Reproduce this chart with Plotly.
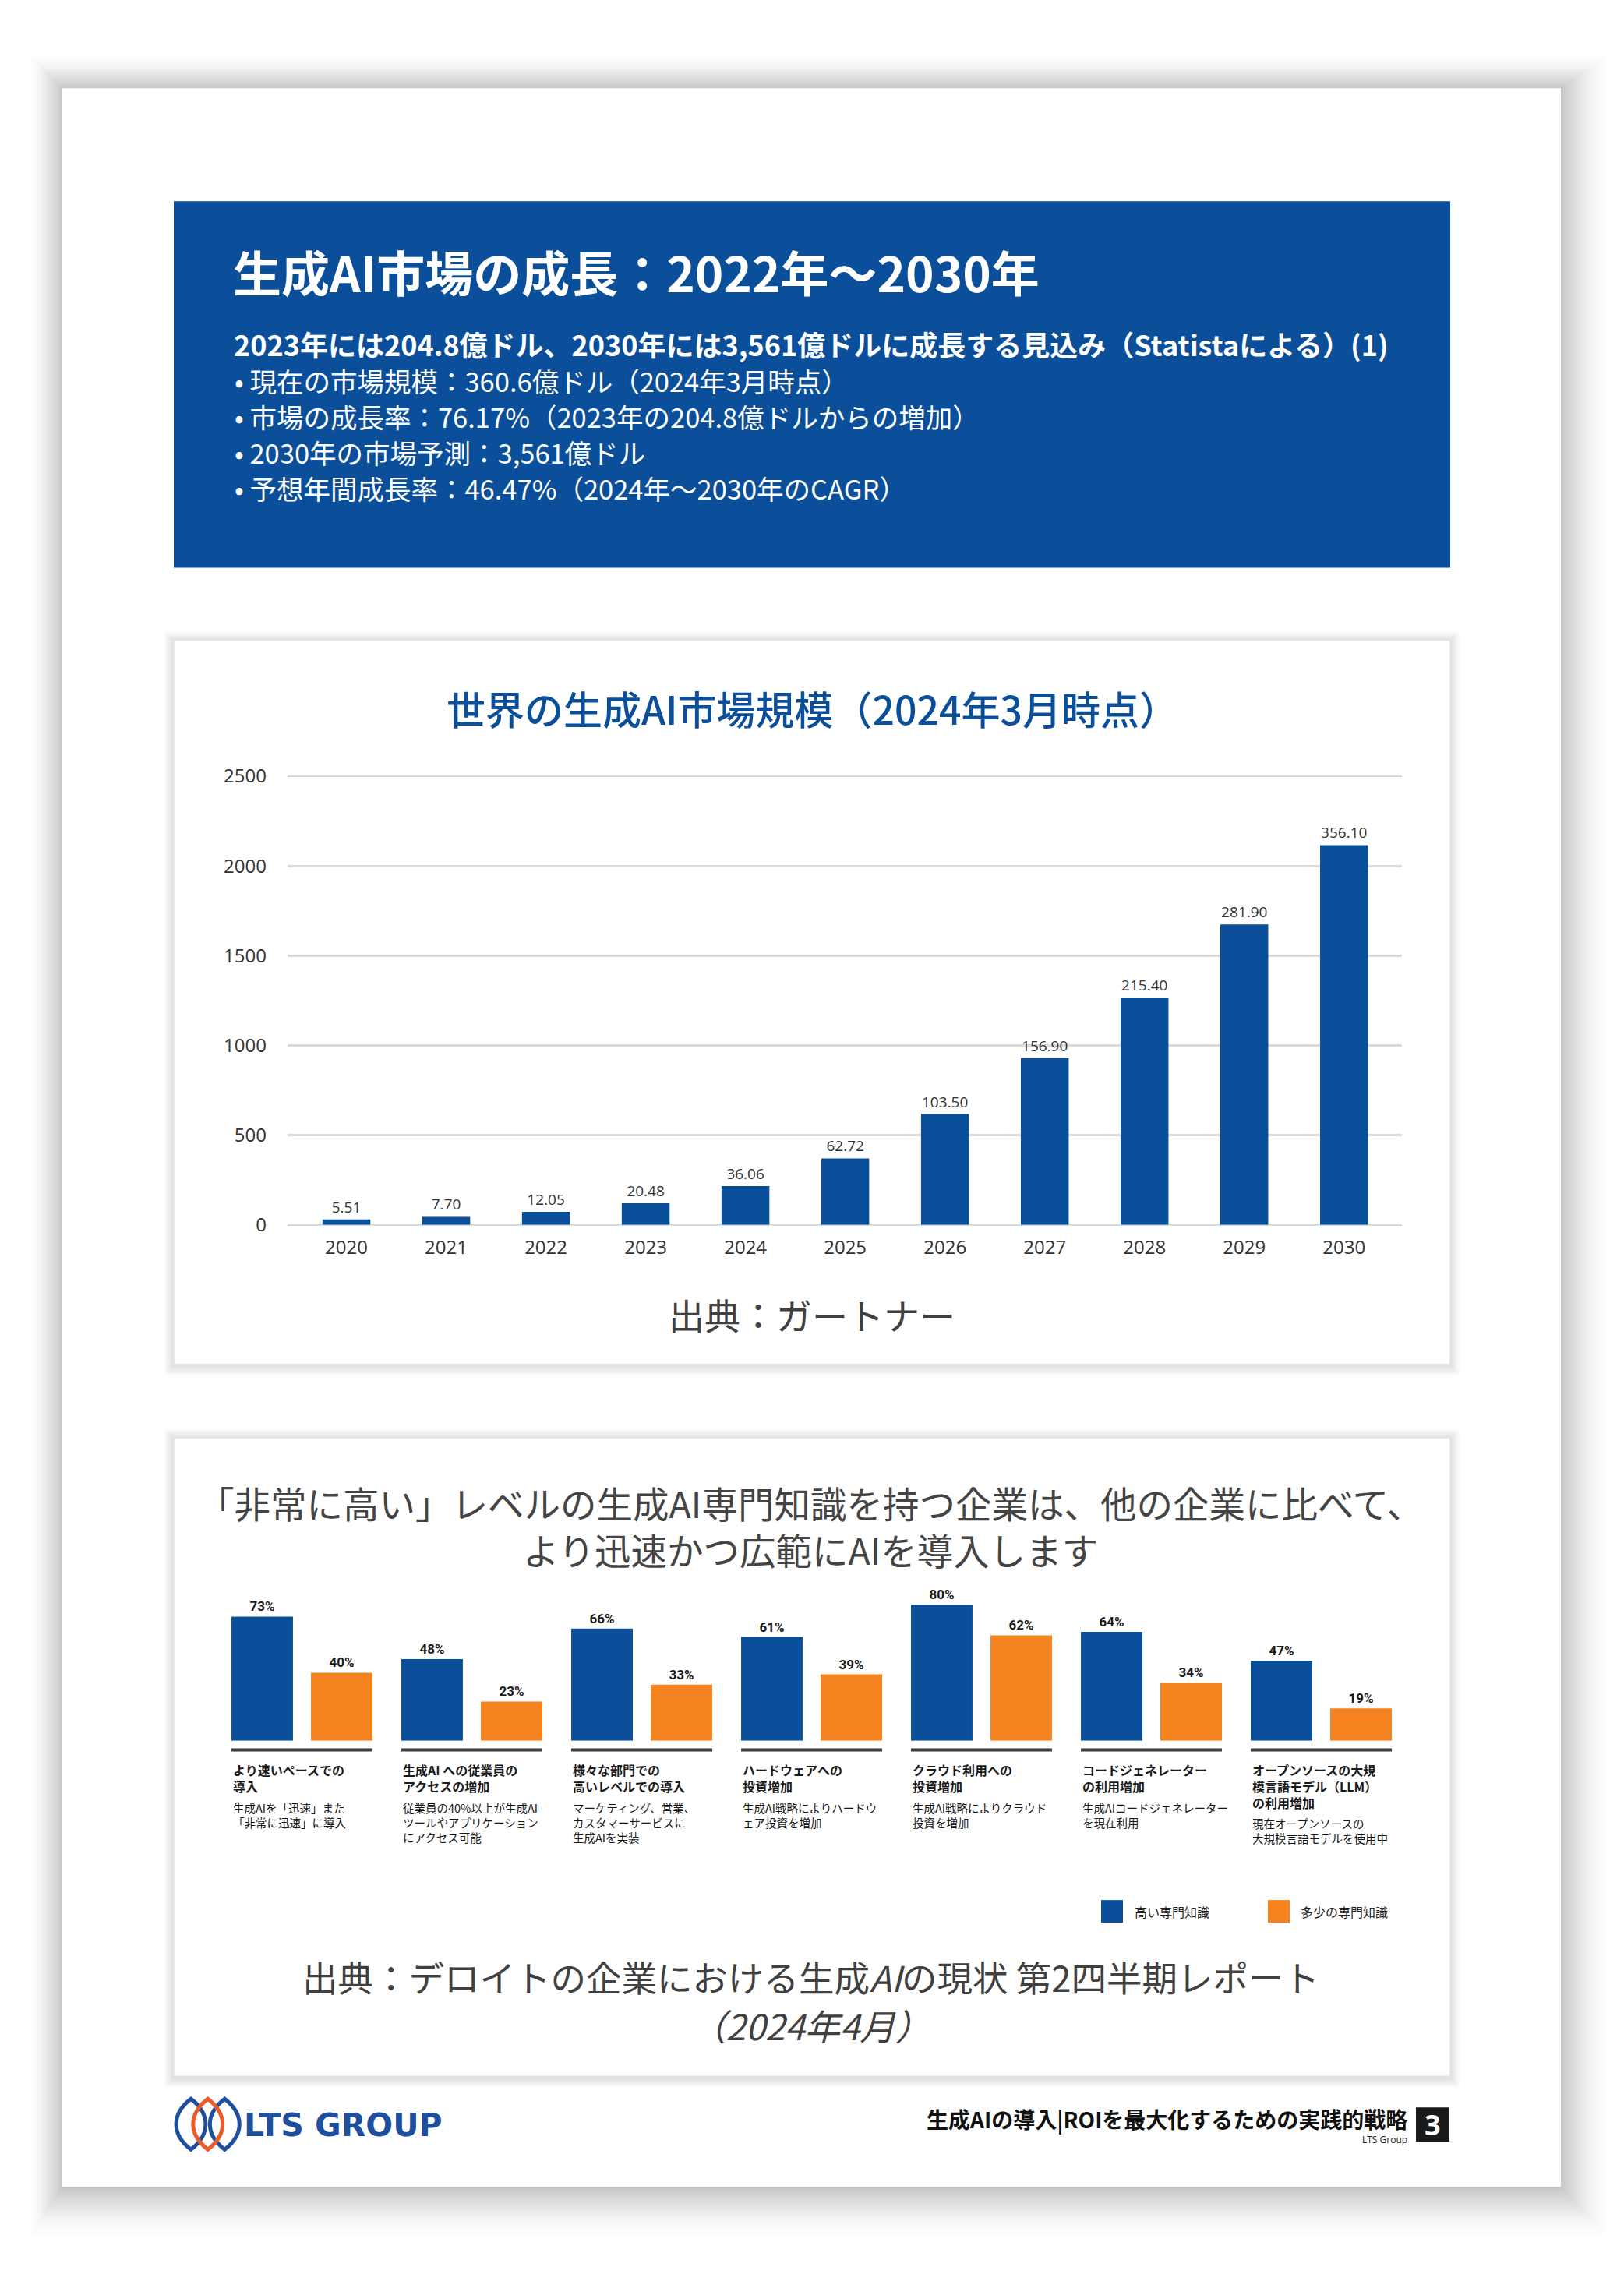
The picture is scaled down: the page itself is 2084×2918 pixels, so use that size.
import plotly.graph_objects as go

W, H = 2084, 2918
# the photographed page is slightly squeezed vertically; compensate the layout grid
Y_OFF, Y_SCALE = 11.8, 0.9914


def fx(x):
    return x / W


def fy(y):
    return 1 - ((y - Y_OFF) / Y_SCALE) / H


BLUE = "#0b4f9b"
ORANGE = "#f4821f"
CJK = "Noto Sans CJK JP"
LAT = "Open Sans"

# ---------------- data ----------------
header_title = "生成AI市場の成長：2022年〜2030年"
header_sub = "2023年には204.8億ドル、2030年には3,561億ドルに成長する見込み（Statistaによる）(1)"
header_bullets = [
    "• 現在の市場規模：360.6億ドル（2024年3月時点）",
    "• 市場の成長率：76.17%（2023年の204.8億ドルからの増加）",
    "• 2030年の市場予測：3,561億ドル",
    "• 予想年間成長率：46.47%（2024年〜2030年のCAGR）",
]

chart1_title = "世界の生成AI市場規模（2024年3月時点）"
chart1_source = "出典：ガートナー"
years = ["2020", "2021", "2022", "2023", "2024", "2025", "2026", "2027", "2028", "2029", "2030"]
market_bar_heights = [30, 44, 72, 120, 215, 370, 617, 929, 1266, 1674, 2116]
market_labels = ["5.51", "7.70", "12.05", "20.48", "36.06", "62.72",
                 "103.50", "156.90", "215.40", "281.90", "356.10"]
y_ticks = [0, 500, 1000, 1500, 2000, 2500]
y_tick_labels = ["0", "500", "1000", "1500", "2000", "2500"]

chart2_title = ("「非常に高い」レベルの生成AI専門知識を持つ企業は、他の企業に比べて、<br>"
                "より迅速かつ広範にAIを導入します")
category_titles = [
    ["より速いペースでの", "導入"],
    ["生成AI への従業員の", "アクセスの増加"],
    ["様々な部門での", "高いレベルでの導入"],
    ["ハードウェアへの", "投資増加"],
    ["クラウド利用への", "投資増加"],
    ["コードジェネレーター", "の利用増加"],
    ["オープンソースの大規", "模言語モデル（LLM）", "の利用増加"],
]
category_descs = [
    ["生成AIを「迅速」また", "「非常に迅速」に導入"],
    ["従業員の40%以上が生成AI", "ツールやアプリケーション", "にアクセス可能"],
    ["マーケティング、営業、", "カスタマーサービスに", "生成AIを実装"],
    ["生成AI戦略によりハードウ", "ェア投資を増加"],
    ["生成AI戦略によりクラウド", "投資を増加"],
    ["生成AIコードジェネレーター", "を現在利用"],
    ["現在オープンソースの", "大規模言語モデルを使用中"],
]
series_names = ["高い専門知識", "多少の専門知識"]
high_expertise = [73, 48, 66, 61, 80, 64, 47]
some_expertise = [40, 23, 33, 39, 62, 34, 19]
chart2_source = ["出典：デロイトの企業における生成<i>AI</i>の現状 第2四半期レポート",
                 "<i>（2024年4月）</i>"]

footer_brand = "LTS GROUP"
footer_text = "生成AIの導入|ROIを最大化するための実践的戦略"
footer_small = "LTS Group"
page_number = "3"

# ---------------- figure ----------------
fig = go.Figure()

fig.add_trace(go.Bar(
    x=years, y=market_bar_heights, text=market_labels, texttemplate="%{text}",
    textposition="outside", constraintext="none", cliponaxis=False,
    width=0.48, marker=dict(color=BLUE, line=dict(width=0)),
    textfont=dict(family=LAT, size=19, color="#333333"),
    xaxis="x", yaxis="y", hoverinfo="skip", showlegend=False,
))

cat_idx = list(range(len(high_expertise)))
BW, BOFF = 0.362, 0.415
fig.add_trace(go.Bar(
    x=cat_idx, y=high_expertise, name=series_names[0],
    text=[f"{v}%" for v in high_expertise], texttemplate="%{text}",
    textposition="outside", constraintext="none", cliponaxis=False,
    width=BW, offset=-BOFF, marker=dict(color=BLUE, line=dict(width=0)),
    textfont=dict(family="Roboto", size=17, color="#1a1a1a", weight="bold"),
    xaxis="x2", yaxis="y2", hoverinfo="skip", showlegend=False,
))
fig.add_trace(go.Bar(
    x=cat_idx, y=some_expertise, name=series_names[1],
    text=[f"{v}%" for v in some_expertise], texttemplate="%{text}",
    textposition="outside", constraintext="none", cliponaxis=False,
    width=BW, offset=BOFF - BW, marker=dict(color=ORANGE, line=dict(width=0)),
    textfont=dict(family="Roboto", size=17, color="#1a1a1a", weight="bold"),
    xaxis="x2", yaxis="y2", hoverinfo="skip", showlegend=False,
))

shapes = []
annotations = []


def rect(x0, y0, x1, y1, fill, line_color=None, line_width=0, layer="below", opacity=1):
    shapes.append(dict(
        type="rect", xref="paper", yref="paper",
        x0=fx(x0), x1=fx(x1), y0=fy(y1), y1=fy(y0),
        fillcolor=fill, opacity=opacity, layer=layer,
        line=dict(color=line_color or "rgba(0,0,0,0)", width=line_width),
    ))


# page shadow + page
PX0, PY0, PX1, PY1 = 80, 112, 2003, 2804
for k in range(32, 0, -1):
    e, o = k * 1.55, k * 0.25
    a = 0.0035 + 0.0075 * (1 - k / 32)
    rect(PX0 - e + o, PY0 - e + o, PX1 + e + o, PY1 + e + 1.5 * o, f"rgba(0,0,0,{a:.4f})")
rect(PX0, PY0, PX1, PY1, "#ffffff")

# header box
rect(223, 257, 1861, 727, BLUE)


def card(x0, y0, x1, y1):
    for k in range(6, 0, -1):
        e = k * 2.0
        rect(x0 - e, y0 - e + 1, x1 + e, y1 + e + 2, "rgba(0,0,0,0.018)")
    rect(x0, y0, x1, y1, "#ffffff", line_color="#e4e4e4", line_width=1.5)


card(223, 820, 1861, 1749)
card(223, 1843, 1861, 2662)


def text(x, y, s, size, color="#222222", family=CJK, weight="normal",
         xanchor="left", yanchor="middle", align="left"):
    annotations.append(dict(
        x=fx(x), y=fy(y), xref="paper", yref="paper", text=s, showarrow=False,
        xanchor=xanchor, yanchor=yanchor, align=align,
        font=dict(family=family, size=size, color=color, weight=weight),
    ))


# header texts
text(297, 347, header_title, 62, "#ffffff", weight="bold")
text(298, 440, header_sub, 36, "#ffffff", weight="bold")
for i, b in enumerate(header_bullets):
    text(299, 487 + i * 46, b, 34.5, "#ffffff")

# chart 1 texts
text(1042, 906, chart1_title, 50, BLUE, weight=500, xanchor="center")
text(1042, 1684, chart1_source, 46, "#404040", xanchor="center")

# chart 2 texts
text(1040, 1956, chart2_title, 46.5, "#444444", xanchor="center", align="center")
text(1040, 2534, chart2_source[0], 45.5, "#404040", xanchor="center", align="center")
text(1040, 2596, chart2_source[1], 45.5, "#404040", xanchor="center", align="center")

for i in cat_idx:
    shapes.append(dict(
        type="line", xref="x2", yref="paper",
        x0=i - BOFF, x1=i + BOFF, y0=fy(2243.5), y1=fy(2243.5),
        line=dict(color="#3a3a3a", width=4), layer="above",
    ))
    tl = category_titles[i]
    annotations.append(dict(
        x=i - BOFF, y=fy(2254.5), xref="x2", yref="paper",
        text="<br>".join(tl), showarrow=False, xanchor="left", yanchor="top",
        align="left", font=dict(family=CJK, size=16, color="#1a1a1a", weight="bold"),
    ))
    dc = 2313.7 + (len(tl) - 2) * 20.5
    annotations.append(dict(
        x=i - BOFF, y=fy(dc - 9), xref="x2", yref="paper",
        text="<br>".join(category_descs[i]), showarrow=False, xanchor="left",
        yanchor="top", align="left",
        font=dict(family=CJK, size=14.5, color="#151515"),
    ))

# legend (custom)
for (sx, lx), name, col in zip([(1413, 1454), (1627, 1667)], series_names, [BLUE, ORANGE]):
    rect(sx, 2436, sx + 28, 2465, col, layer="above")
    text(lx, 2451, name, 16, "#222222")


# footer
def lens(cx, top, bot, w, color):
    h = bot - top
    c = 1.33 * w
    p = (f"M {fx(cx)},{fy(top)} "
         f"C {fx(cx - c)},{fy(top + 0.3 * h)} {fx(cx - c)},{fy(bot - 0.3 * h)} {fx(cx)},{fy(bot)} "
         f"C {fx(cx + c)},{fy(bot - 0.3 * h)} {fx(cx + c)},{fy(top + 0.3 * h)} {fx(cx)},{fy(top)} Z")
    shapes.append(dict(type="path", xref="paper", yref="paper", path=p,
                       line=dict(color=color, width=5), fillcolor="rgba(0,0,0,0)",
                       layer="above"))


lens(245, 2691, 2756, 19, "#1d4f9e")
lens(288.3, 2691, 2756, 19, "#1d4f9e")
lens(266.7, 2691, 2756, 19, "#ea5b2a")

text(311, 2725, f"<b>{footer_brand}</b>", 41, "#1d4f9e", family="DejaVu Sans")
text(1808, 2717, footer_text, 28, "#111111", xanchor="right", weight="bold")
text(1808, 2743, footer_small, 12, "#222222", family=LAT, xanchor="right")
rect(1817, 2702, 1860, 2746, "#1a1a1a", layer="above")
text(1838.5, 2724, f"<b>{page_number}</b>", 36, "#ffffff", family=LAT, xanchor="center")

fig.update_layout(
    width=W, height=H, margin=dict(l=0, r=0, t=0, b=0, pad=0),
    paper_bgcolor="#ffffff", plot_bgcolor="rgba(0,0,0,0)",
    barmode="group", showlegend=False,
    shapes=shapes, annotations=annotations,
    xaxis=dict(
        domain=[fx(369), fx(1799)], type="category", range=[-0.59, 10.58],
        showgrid=False, showline=False, zeroline=False, ticks="",
        tickfont=dict(family=LAT, size=24, color="#333333"),
        ticklabelstandoff=8, anchor="y", fixedrange=True,
    ),
    yaxis=dict(
        domain=[fy(1574.4), fy(989.8)], range=[-20, 2520],
        tickvals=y_ticks, ticktext=y_tick_labels,
        showgrid=True, gridcolor="#d9dcdc", gridwidth=3, zeroline=False,
        showline=False, ticks="", ticklabelstandoff=26,
        tickfont=dict(family=LAT, size=24, color="#333333"),
        anchor="x", fixedrange=True,
    ),
    xaxis2=dict(domain=[fx(278.5), fx(1804.5)], range=[-0.5, 6.5], visible=False,
                anchor="y2", fixedrange=True),
    yaxis2=dict(domain=[fy(2231.6), fy(2013.6)], range=[0, 100], visible=False,
                anchor="x2", fixedrange=True),
)

fig.write_html("out.html", config={"displayModeBar": False},
               post_script="document.body.style.margin='0';")
